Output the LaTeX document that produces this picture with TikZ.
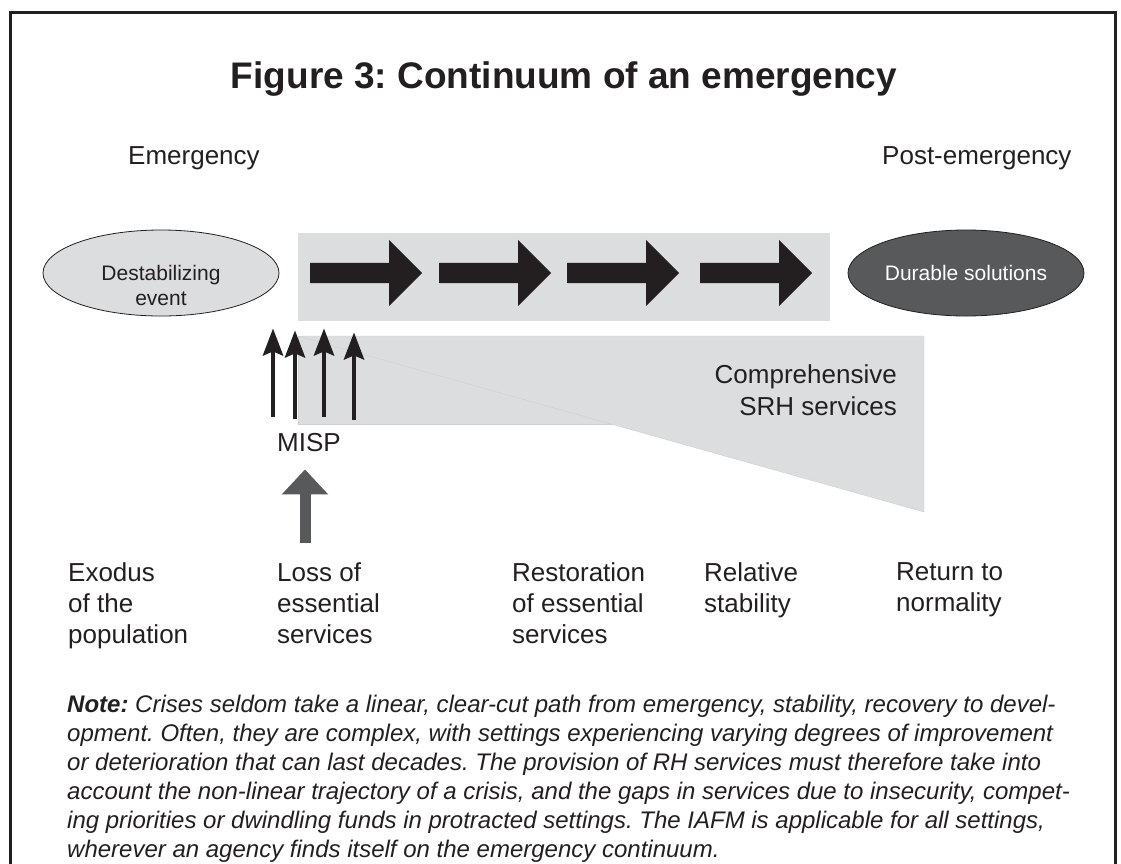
\documentclass[tikz,border=0pt]{standalone}
\usepackage{fontspec}
\setmainfont{Liberation Sans}
\usetikzlibrary{arrows.meta, positioning, shapes.geometric, shapes.arrows}

\definecolor{inkblack}{RGB}{35,31,32}
\definecolor{bandgrey}{RGB}{220,221,223}
\definecolor{edgegrey}{RGB}{206,207,209}
\definecolor{darkgrey}{RGB}{88,89,91}

\frenchspacing

\begin{document}
\begin{tikzpicture}[
  x=1pt, y=-1pt,
  every node/.style={text=inkblack},
  title/.style={font=\fontsize{37}{44}\selectfont\bfseries, anchor=base,
                inner sep=0pt},
  phase/.style={font=\fontsize{26}{31}\selectfont, anchor=base west,
                inner sep=0pt},
  stage/.style={font=\fontsize{26}{31}\selectfont, anchor=north west,
                align=left, inner sep=0pt},
  event/.style={ellipse, draw=inkblack, line width=0.8pt, minimum width=236pt,
                minimum height=86pt, inner sep=0pt, align=center,
                font=\fontsize{21}{25}\selectfont},
  flow/.style={single arrow, fill=inkblack, draw=none, minimum height=112pt,
               inner xsep=0pt, inner ysep=10pt, single arrow head extend=23pt,
               single arrow tip angle=90, anchor=tail},
  lift/.style={-{Stealth[length=27pt, width=20pt, inset=4pt]}, line width=4.5pt,
               draw=inkblack},
  push/.style={-{Triangle[length=25pt, width=45pt]}, line width=11pt,
               draw=darkgrey},
  note/.style={font=\fontsize{24}{29}\selectfont\itshape, anchor=north west,
               align=left, inner sep=0pt},
]
\useasboundingbox (0,0) rectangle (1121,863);

% ---- Rahmen ----
\draw[line width=3pt, inkblack] (10,880) -- (10,12) -- (1115,12) -- (1115,880);

% ---- Titel ----
\node[title] (title) at (564,88) {Figure 3: Continuum of an emergency};
\node[phase] (emerg) at (128,164) {Emergency};
\node[phase] (post)  at (882,164) {Post-emergency};

% ---- Band mit Pfeilen ----
\node[fill=bandgrey, minimum width=532pt, minimum height=88pt,
      anchor=north west, inner sep=0pt] (band) at (298,233) {};
\foreach \i/\x in {1/310, 2/439, 3/567, 4/700}
  \node[flow] (flow-\i) at (\x,273) {};

\node[event, fill=bandgrey] (dest) at (161,273) {};
\node[font=\fontsize{21}{25}\selectfont, align=center, inner sep=0pt]
  (dest-text) at ([yshift=-12pt]dest.center) {Destabilizing\\event};
\node[event, fill=darkgrey, text=white] (durable) at (966,273) {Durable solutions};

% ---- Umfassende Leistungen ----
\filldraw[fill=bandgrey, draw=edgegrey] (298,336) rectangle (615,424);
\filldraw[fill=bandgrey, draw=edgegrey] (298,336) -- (924,336) -- (924,512) -- cycle;
\node[font=\fontsize{26}{32}\selectfont, align=right, anchor=north east,
      inner sep=0pt] (srh) at (897,364) {Comprehensive\\SRH services};

% ---- MISP ----
\node[phase] (misp) at (277,451) {MISP};
\foreach \i/\x/\y in {1/273/417, 2/295/419, 3/324/417, 4/354/420}
  \coordinate (base-\i) at (\x,\y);
\foreach \i/\s in {1/7, 2/9, 3/7, 4/11}
  \draw[lift, shorten >=\s pt] (base-\i) -- (base-\i |- band.south);

\coordinate (push-base) at (305,543);
\draw[push, shorten >=18pt] (push-base) -- (push-base |- misp.south);

% ---- Phasen ----
\node[stage] (exodus)   at (68,562)  {Exodus\\of the\\population};
\node[stage] (loss)     at (277,562) {Loss of\\essential\\services};
\node[stage] (restore)  at (512,562) {Restoration\\of essential\\services};
\node[stage] (relative) at (704,562) {Relative\\stability};
\node[stage] (return)   at (896,562) {Return to\\normality};

% ---- Anmerkung ----
\node[note] (note) at (67,695) {\textbf{Note:} Crises seldom take a linear, clear-cut path from emergency, stability, recovery to devel-\\
opment. Often, they are complex, with settings experiencing varying degrees of improvement\\
or deterioration that can last decades. The provision of RH services must therefore take into\\
account the non-linear trajectory of a crisis, and the gaps in services due to insecurity, compet-\\
ing priorities or dwindling funds in protracted settings. The IAFM is applicable for all settings,\\
wherever an agency finds itself on the emergency continuum.};

\end{tikzpicture}
\end{document}
